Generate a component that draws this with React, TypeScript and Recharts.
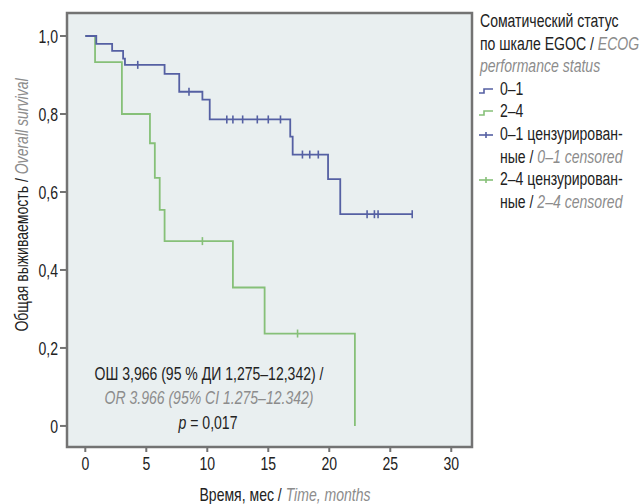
import React from "react";
import {
  ComposedChart,
  Line,
  Scatter,
  XAxis,
  YAxis,
  ReferenceArea,
  CartesianGrid,
  Customized,
} from "recharts";

// ---- data ----
const blueTimes = [0, 0.9, 2.2, 3.1, 3.25, 6.5, 7.7, 9.6, 10.2, 16.8, 17.0, 19.9, 20.9, 26.8];
const blueSurv = [1.0, 0.98, 0.962, 0.942, 0.926, 0.903, 0.857, 0.837, 0.786, 0.742, 0.696, 0.633, 0.543, 0.543];
const blueCensorTimes = [4.3, 8.5, 11.6, 12.1, 12.9, 14.1, 15.0, 16.0, 17.8, 18.4, 19.1, 23.1, 23.7, 24.0, 26.8];
const blueCensorSurv = [0.926, 0.857, 0.786, 0.786, 0.786, 0.786, 0.786, 0.786, 0.696, 0.696, 0.696, 0.543, 0.543, 0.543, 0.543];

const greenTimes = [0, 0.8, 3.0, 5.3, 5.7, 6.1, 6.5, 12.1, 14.7, 22.1];
const greenSurv = [1.0, 0.933, 0.8, 0.725, 0.636, 0.554, 0.474, 0.355, 0.237, 0.0];
const greenCensorTimes = [9.6, 17.4];
const greenCensorSurv = [0.474, 0.237];

const xTicks = [0, 5, 10, 15, 20, 25, 30];
const yTicks = [0, 0.2, 0.4, 0.6, 0.8, 1.0];

const legendTitle = ["Соматический статус", "по шкале EGOC / ", "ECOG", "performance status"];
const legendItems = [
  { ru: "0–1", ru2: "", en: "", color: "#5560a3", censor: false },
  { ru: "2–4", ru2: "", en: "", color: "#86c078", censor: false },
  { ru: "0–1 цензурирован-", ru2: "ные / ", en: "0–1 censored", color: "#5560a3", censor: true },
  { ru: "2–4 цензурирован-", ru2: "ные / ", en: "2–4 censored", color: "#86c078", censor: true },
];

const annot1 = "ОШ 3,966 (95 % ДИ 1,275–12,342) /";
const annot2 = "OR 3.966 (95% CI 1.275–12.342)";
const annotP = "= 0,017";

const blueData = blueTimes.map((t, i) => ({ t, s: blueSurv[i] }));
const greenData = greenTimes.map((t, i) => ({ t, s: greenSurv[i] }));
const blueCensor = blueCensorTimes.map((t, i) => ({ t, s: blueCensorSurv[i] }));
const greenCensor = greenCensorTimes.map((t, i) => ({ t, s: greenCensorSurv[i] }));

const FONT = "'Liberation Sans', Arial, sans-serif";
const FS = 18;
const SX = 0.78;
const BLUE = "#5560a3";
const GREEN = "#86c078";
const GRAY_IT = "#8c8c8c";
const FRAME = "#737373";
const TXT = "#222";

const X_DOMAIN: [number, number] = [-1.5, 31.7];
const Y_DOMAIN: [number, number] = [-0.054, 1.059];

const censorShape = (color: string) => (props: any) => {
  const { cx, cy } = props;
  return <line x1={cx} x2={cx} y1={cy - 4} y2={cy + 4} stroke={color} strokeWidth={1.6} />;
};

const fmtY = (v: number) => (v === 0 ? "0" : v.toFixed(1).replace(".", ","));

const YTick = (props: any) => {
  const { x, y, payload } = props;
  return (
    <text
      transform={`translate(${x},${y}) scale(${SX},1)`}
      textAnchor="end"
      dominantBaseline="central"
      fontFamily={FONT}
      fontSize={FS}
      fill={TXT}
    >
      {fmtY(payload.value)}
    </text>
  );
};

const XTick = (props: any) => {
  const { x, y, payload } = props;
  return (
    <text
      transform={`translate(${x},${y + 9}) scale(${SX},1)`}
      textAnchor="middle"
      dominantBaseline="central"
      fontFamily={FONT}
      fontSize={FS}
      fill={TXT}
    >
      {payload.value}
    </text>
  );
};

const Overlay = () => (
  <g fontFamily={FONT} fontSize={FS}>
    <text
      transform={`translate(21,205) rotate(-90) scale(${SX},1)`}
      textAnchor="middle"
      dominantBaseline="central"
      fill={TXT}
    >
      Общая выживаемость / <tspan fill={GRAY_IT} fontStyle="italic">Overall survival</tspan>
    </text>
    <text transform={`translate(285,494) scale(${SX},1)`} textAnchor="middle" dominantBaseline="central" fill={TXT}>
      Время, мес / <tspan fill={GRAY_IT} fontStyle="italic">Time, months</tspan>
    </text>
    <text transform={`translate(209,373) scale(${SX},1)`} textAnchor="middle" dominantBaseline="central" fill={TXT}>
      {annot1}
    </text>
    <text
      transform={`translate(209,397) scale(${SX},1)`}
      textAnchor="middle"
      dominantBaseline="central"
      fill={GRAY_IT}
      fontStyle="italic"
    >
      {annot2}
    </text>
    <text transform={`translate(208,422) scale(${SX},1)`} textAnchor="middle" dominantBaseline="central" fill={TXT}>
      <tspan fontStyle="italic">p</tspan> {annotP}
    </text>
  </g>
);

const sq: React.CSSProperties = {
  display: "inline-block",
  transform: `scaleX(${SX})`,
  transformOrigin: "0 50%",
};

const LegendBox = () => (
  <div
    style={{
      position: "absolute",
      left: 480,
      top: 10,
      width: 160,
      fontFamily: FONT,
      fontSize: FS,
      lineHeight: "22.6px",
      color: TXT,
      whiteSpace: "nowrap",
    }}
  >
    <div>
      <span style={sq}>{legendTitle[0]}</span>
    </div>
    <div>
      <span style={sq}>
        {legendTitle[1]}
        <span style={{ color: GRAY_IT, fontStyle: "italic" }}>{legendTitle[2]}</span>
      </span>
    </div>
    <div>
      <span style={{ ...sq, color: GRAY_IT, fontStyle: "italic" }}>{legendTitle[3]}</span>
    </div>
    {legendItems.map((it, i) => (
      <div key={i}>
        <div style={{ position: "relative", paddingLeft: 20 }}>
          <svg width={16} height={10} style={{ position: "absolute", left: -2, top: 7 }}>
            {it.censor ? (
              <g>
                <line x1={1} x2={15} y1={5} y2={5} stroke={it.color} strokeWidth={1.6} />
                <line x1={8} x2={8} y1={2} y2={8} stroke={it.color} strokeWidth={1.6} />
              </g>
            ) : (
              <polyline points="1,8 6,8 6,4 15,4" fill="none" stroke={it.color} strokeWidth={1.6} />
            )}
          </svg>
          <span style={sq}>{it.ru}</span>
        </div>
        {it.censor && (
          <div style={{ paddingLeft: 20 }}>
            <span style={sq}>
              {it.ru2}
              <span style={{ color: GRAY_IT, fontStyle: "italic" }}>{it.en}</span>
            </span>
          </div>
        )}
      </div>
    ))}
  </div>
);

export default function App() {
  return (
    <div style={{ position: "absolute", left: 0, top: 0, width: 640, height: 504, background: "#fff" }}>
      <ComposedChart
        width={640}
        height={504}
        margin={{ top: 13, right: 168, bottom: 0, left: 0 }}
        style={{ fontFamily: FONT }}
      >
        <CartesianGrid horizontal={false} vertical={false} fill="#e9eff0" fillOpacity={1} />
        <XAxis
          type="number"
          dataKey="t"
          domain={X_DOMAIN}
          ticks={xTicks}
          allowDataOverflow
          height={57}
          axisLine={false}
          tickLine={{ stroke: FRAME, strokeWidth: 2 }}
          tickSize={5}
          tickMargin={2}
          tick={<XTick />}
        />
        <YAxis
          type="number"
          dataKey="s"
          domain={Y_DOMAIN}
          ticks={yTicks}
          allowDataOverflow
          width={67}
          axisLine={false}
          tickLine={{ stroke: FRAME, strokeWidth: 2 }}
          tickSize={7}
          tickMargin={2}
          tick={<YTick />}
        />
        <ReferenceArea
          x1={X_DOMAIN[0]}
          x2={X_DOMAIN[1]}
          y1={Y_DOMAIN[0]}
          y2={Y_DOMAIN[1]}
          fill="none"
          fillOpacity={0}
          stroke={FRAME}
          strokeWidth={2.5}
          ifOverflow="visible"
        />
        <Line
          data={greenData}
          dataKey="s"
          type="stepAfter"
          stroke={GREEN}
          strokeWidth={1.8}
          dot={false}
          isAnimationActive={false}
        />
        <Line
          data={blueData}
          dataKey="s"
          type="stepAfter"
          stroke={BLUE}
          strokeWidth={1.8}
          dot={false}
          isAnimationActive={false}
        />
        <Scatter data={greenCensor} dataKey="s" shape={censorShape(GREEN)} isAnimationActive={false} />
        <Scatter data={blueCensor} dataKey="s" shape={censorShape(BLUE)} isAnimationActive={false} />
        <Customized component={Overlay} />
      </ComposedChart>
      <LegendBox />
    </div>
  );
}
